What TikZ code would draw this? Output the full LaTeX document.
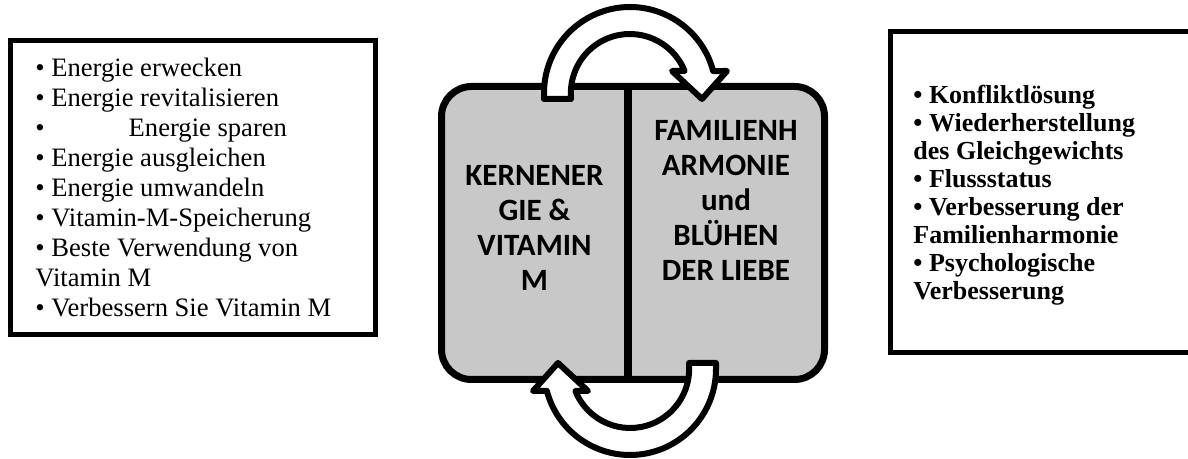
\documentclass[tikz,border=0pt]{standalone}
\usepackage{fontspec}
\setmainfont{Liberation Serif}
\newfontfamily\corefont{Carlito}
\definecolor{coregray}{RGB}{200,200,200}

\begin{document}
\begin{tikzpicture}[x=0.5pt, y=0.5pt,
		frame/.style={draw, line width=2.5pt, inner sep=0pt},
		listtext/.style={align=left, inner sep=0pt, font=\fontsize{13.3}{15}\selectfont},
		corebox/.style={draw, line width=3.5pt, fill=coregray, rounded corners=15pt, minimum width=191.5pt, minimum height=146.5pt},
		coretext/.style={align=center, inner sep=0pt, font=\corefont\bfseries\fontsize{15.5}{17.5}\selectfont},
		bentarrow/.style={draw, line width=3pt, fill=white, line join=round}]
		\useasboundingbox (0,0) rectangle (1188,459);

		% left list
		\node[frame, minimum width=182.5pt, minimum height=147pt] (lbox) at (193,271.5) {};
		\node[listtext, anchor=north west] (llist) at (35,401) {
			\textbullet{} Energie erwecken\\
			\textbullet{} Energie revitalisieren\\
			\textbullet\hspace{42pt}Energie sparen\\
			\textbullet{} Energie ausgleichen\\
			\textbullet{} Energie umwandeln\\
			\textbullet{} Vitamin-M-Speicherung\\
			\textbullet{} Beste Verwendung von\\
			Vitamin M\\
			\textbullet{} Verbessern Sie Vitamin M};

		% right list, its frame runs off the page
		\draw[line width=2.5pt] (1188,427.5) -| (890.5,106.5) -- (1188,106.5);
		\node[listtext, font=\fontsize{13}{14}\selectfont\bfseries, anchor=north west] (rlist) at (913,374) {
			\textbullet{} Konfliktlösung\\
			\textbullet{} Wiederherstellung\\
			des Gleichgewichts\\
			\textbullet{} Flussstatus\\
			\textbullet{} Verbesserung der\\
			Familienharmonie\\
			\textbullet{} Psychologische\\
			Verbesserung};

		% centre block with two halves
		\node[corebox] (core) at (633,226) {};
		\coordinate (divx) at (628,0);
		\draw[line width=4pt] (core.north -| divx) -- (core.south -| divx);
		\node[coretext] (ktext) at (534.5,231.5) {KERNENER\\GIE \&\\VITAMIN\\M};
		\node[coretext, anchor=north] (ftext) at (726,339) {FAMILIENH\\ARMONIE\\und\\BLÜHEN\\DER LIEBE};

		% the two bent arrows
		\foreach \cx/\cy/\rot in {630/366/0, 630/90/180} {
			\draw[bentarrow, shift={(\cx,\cy)}, rotate=\rot]
				(-86,-6) -- (-86,0) arc[start angle=180, end angle=14.8, radius=86]
				-- (97,22) -- (72,-6) -- (42,22) -- (54.6,22)
				arc[start angle=21.9, end angle=180, radius=59] -- (-59,-6) -- cycle;
		}
	\end{tikzpicture}
\end{document}
